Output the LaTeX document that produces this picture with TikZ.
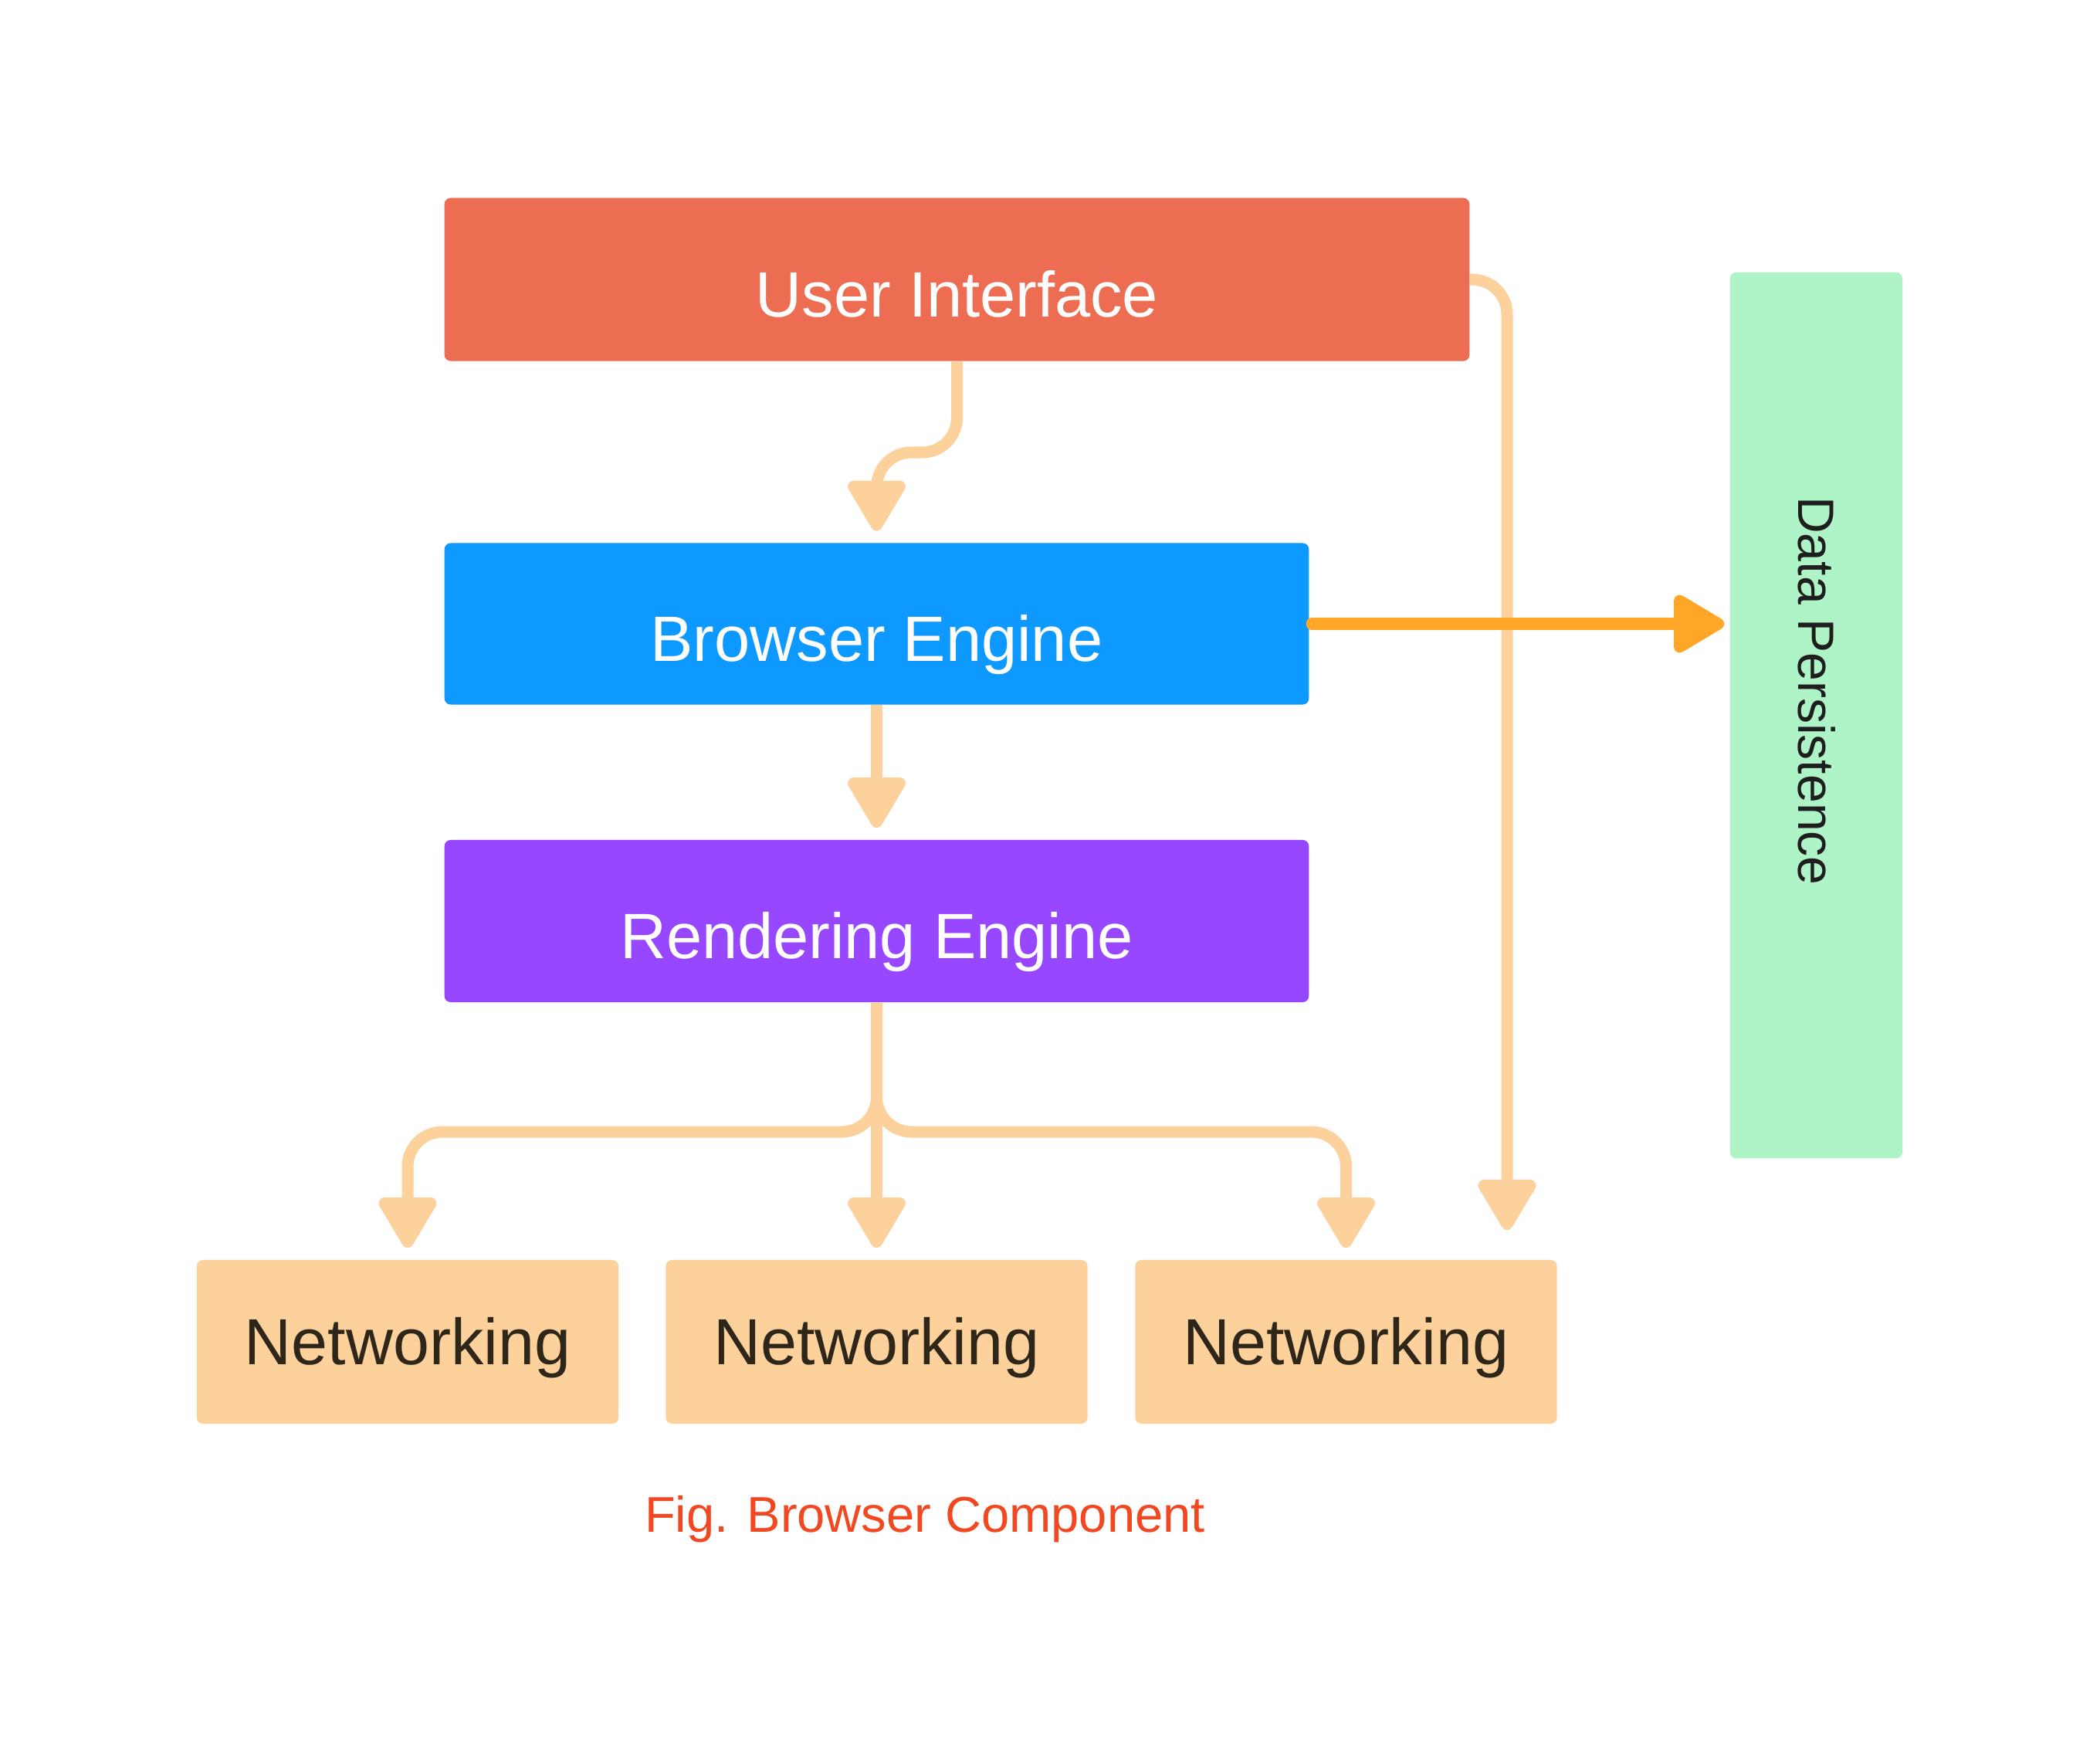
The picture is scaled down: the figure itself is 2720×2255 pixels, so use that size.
\documentclass[tikz,border=0pt]{standalone}
\usepackage{fontspec}
\setmainfont{Liberation Sans}
\usetikzlibrary{arrows.meta}
\definecolor{uicol}{HTML}{ED6D52}
\definecolor{becol}{HTML}{0D99FF}
\definecolor{recol}{HTML}{9747FF}
\definecolor{dpcol}{HTML}{AFF4C6}
\definecolor{nwcol}{HTML}{FCD19C}
\definecolor{linecol}{HTML}{FCD19C}
\definecolor{orcol}{HTML}{FFA629}
\definecolor{capcol}{HTML}{F24822}
\definecolor{darktext}{HTML}{2E2619}
\definecolor{dptext}{HTML}{1E1E1E}
\begin{document}
\begin{tikzpicture}[x=0.01cm,y=-0.01cm,
  box/.style={rectangle, rounded corners=0.08cm, inner sep=0pt, anchor=center},
  colbox/.style={box, text=white, font=\fontsize{23.6}{28}\selectfont,
     text height=1.26cm, text depth=0.3cm},
  nwbox/.style={box, fill=nwcol, text=darktext, minimum width=5.46cm, minimum height=2.12cm,
     font=\fontsize{24}{28}\selectfont, text height=0.78cm, text depth=0.2cm},
  lightarr/.style={draw=linecol, line width=0.15cm, rounded corners=0.45cm,
     -{Triangle[length=0.73cm,width=0.82cm,round]}, shorten >=0.15cm},
  orarr/.style={draw=orcol, line width=0.15cm, line cap=round,
     -{Triangle[length=0.73cm,width=0.82cm,round]}, shorten >=0.07cm, shorten <=0.03cm}
]
\fill[white] (0,0) rectangle (2720,2255);
\useasboundingbox (0,0) rectangle (2720,2255);

\node[colbox, fill=uicol, minimum width=13.27cm, minimum height=2.11cm] (ui) at (1239.5,362) {User Interface};
\node[colbox, fill=becol, minimum width=11.19cm, minimum height=2.09cm] (be) at (1135.5,808) {Browser Engine};
\node[colbox, fill=recol, minimum width=11.19cm, minimum height=2.10cm] (re) at (1135.5,1193) {Rendering Engine};
\node[box, fill=dpcol, text=dptext, rotate=-90, minimum width=11.47cm, minimum height=2.23cm,
   font=\fontsize{18.8}{22}\selectfont, text height=0.6cm, text depth=0.13cm] (dp) at (2352.5,926.5)
   {\hspace*{-0.63cm}Data Persistence};

\node[nwbox] (nw1) at (528,1738) {Networking};
\node[nwbox] (nw2) at (1135.5,1738) {Networking};
\node[nwbox] (nw3) at (1743.5,1738) {Networking};

\node[text=capcol, font=\fontsize{18.5}{22}\selectfont, anchor=base, inner sep=0pt] (cap) at (1198,1984) {Fig. Browser Component};

\coordinate (lvl1) at (0,586);
\coordinate (lvl2) at (0,1466);
\coordinate (rtop) at (1952,362);

% UI -> Browser Engine
\draw[lightarr] (ui.south) -- (ui.south |- lvl1) -- (be.north |- lvl1) -- (be.north);
% UI -> right Networking
\draw[lightarr, shorten >=0.38cm] (ui.east) -- (rtop) -- (rtop |- nw3.north);
% Browser Engine -> Rendering Engine
\draw[lightarr] (be.south) -- (re.north);
% Browser Engine -> Data Persistence
\draw[orarr] (be.east) -- (be.east -| dp.south);
% Rendering Engine -> Networking
\draw[lightarr] (re.south) -- (re.south |- lvl2) -- (nw1.north |- lvl2) -- (nw1.north);
\draw[lightarr] (re.south) -- (nw2.north);
\draw[lightarr] (re.south) -- (re.south |- lvl2) -- (nw3.north |- lvl2) -- (nw3.north);
\end{tikzpicture}
\end{document}
